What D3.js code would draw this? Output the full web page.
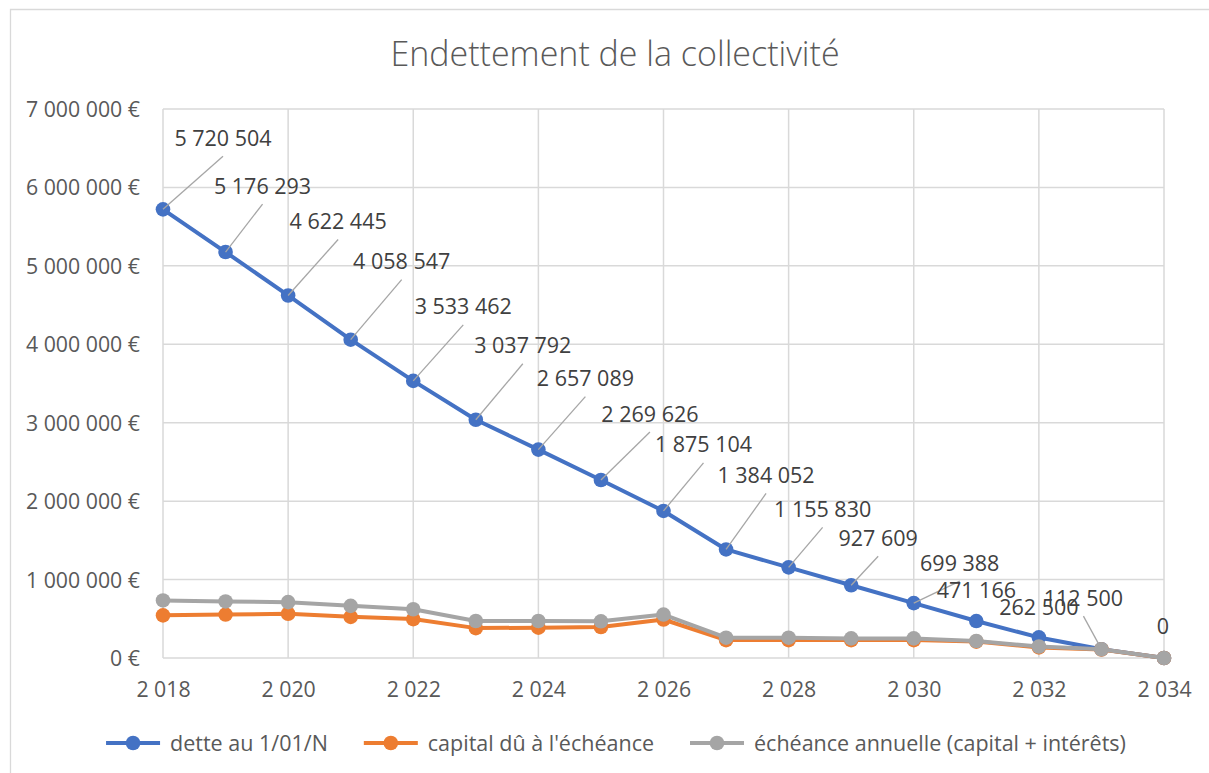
<!DOCTYPE html>
<html>
<head>
<meta charset="utf-8">
<script src="https://cdn.jsdelivr.net/npm/d3@7"></script>
<style>
  html, body { margin: 0; padding: 0; background: #fff; }
  svg { display: block; font-family: "Open Sans", "Noto Sans", sans-serif; }
</style>
</head>
<body>
<svg id="chart" width="1209" height="773"></svg>
<script>
// ---- Data ----
const years = [2018,2019,2020,2021,2022,2023,2024,2025,2026,2027,2028,2029,2030,2031,2032,2033,2034];
const dette = [5720504,5176293,4622445,4058547,3533462,3037792,2657089,2269626,1875104,1384052,1155830,927609,699388,471166,262500,112500,0];
const capital = [544000,554000,564000,525000,496000,381000,387000,395000,491000,228000,228000,228000,228000,209000,135000,108000,0];
const echeance = [734000,721000,712000,665000,622000,472000,472000,468000,554000,259000,259000,250000,250000,217000,147000,112000,0];
const seriesNames = ["dette au 1/01/N", "capital dû à l'échéance", "échéance annuelle (capital + intérêts)"];
const yTicks = [0,1000000,2000000,3000000,4000000,5000000,6000000,7000000];
const xTicks = [2018,2020,2022,2024,2026,2028,2030,2032,2034];
const titleText = "Endettement de la collectivité";

// ---- Layout (label placement, offsets in px from the point) ----
const labelDx = [60,37,50,51,50,47,47,49,40,40,34,27,46,0,0,-18,-1];
const labelDy = [-71,-66,-74,-78,-74,-74,-71,-66,-66,-74,-58,-47,-40,-31,-30,-51,-32];
const hasLeader = [1,1,1,1,1,1,1,1,1,1,1,1,1,0,0,1,0];

const colors = ["#4472C4", "#ED7D31", "#A5A5A5"];
const textColor = "#595959";
const gridColor = "#D9D9D9";

const svg = d3.select("#chart");
const fr = d3.formatLocale({decimal: ",", thousands: " ", grouping: [3], currency: ["", " €"]});
const fmtNum = fr.format(",d");
const fmtEur = d => fr.format(",d")(d) + " €";

const x = d3.scaleLinear().domain([2018, 2034]).range([163, 1164]);
const y = d3.scaleLinear().domain([0, 7000000]).range([658, 109]);

// chart border
svg.append("path").attr("d", "M10.5,773 V9.5 H1209")
  .attr("fill", "none").attr("stroke", gridColor).attr("stroke-width", 1.3);

// title
svg.append("text").attr("x", 615).attr("y", 66).attr("text-anchor", "middle")
  .attr("fill", textColor).attr("font-size", 34).attr("font-weight", 300).text(titleText);

// gridlines
const grid = svg.append("g");
grid.selectAll("line.h").data(yTicks).join("line")
  .attr("x1", x(2018)).attr("x2", x(2034))
  .attr("y1", d => y(d)).attr("y2", d => y(d))
  .attr("stroke", gridColor).attr("stroke-width", 1.5);
grid.selectAll("line.v").data(xTicks).join("line")
  .attr("x1", d => x(d)).attr("x2", d => x(d))
  .attr("y1", y(0)).attr("y2", y(7000000))
  .attr("stroke", gridColor).attr("stroke-width", 1.5);

// axes (labels only)
const yAxis = d3.axisLeft(y).tickValues(yTicks).tickFormat(fmtEur).tickSize(0).tickPadding(0);
const gy = svg.append("g").attr("transform", "translate(140,0)").call(yAxis);
gy.select(".domain").remove();
gy.selectAll("text").attr("fill", textColor).attr("font-size", 21.3)
  .attr("font-family", "'Open Sans', sans-serif").attr("dy", "0.35em");

const xAxis = d3.axisBottom(x).tickValues(xTicks).tickFormat(fmtNum).tickSize(0).tickPadding(0);
const gx = svg.append("g").attr("transform", "translate(0,690)").call(xAxis);
gx.select(".domain").remove();
gx.selectAll("text").attr("fill", textColor).attr("font-size", 21.3)
  .attr("font-family", "'Open Sans', sans-serif").attr("dy", "0.35em");

// series
const allSeries = [dette, capital, echeance];
const line = d3.line().x((d, i) => x(years[i])).y(d => y(d));
allSeries.forEach((vals, si) => {
  const g = svg.append("g");
  g.append("path").datum(vals).attr("d", line)
    .attr("fill", "none").attr("stroke", colors[si]).attr("stroke-width", 4)
    .attr("stroke-linejoin", "round").attr("stroke-linecap", "round");
  g.selectAll("circle").data(vals).join("circle")
    .attr("cx", (d, i) => x(years[i])).attr("cy", d => y(d)).attr("r", 7.3)
    .attr("fill", colors[si]);
});

// data labels for dette
const lg = svg.append("g");
dette.forEach((v, i) => {
  const px = x(years[i]), py = y(v);
  const lx = px + labelDx[i], ly = py + labelDy[i];
  if (hasLeader[i]) {
    lg.append("line").attr("x1", px).attr("y1", py).attr("x2", lx).attr("y2", ly + 18)
      .attr("stroke", "#A6A6A6").attr("stroke-width", 1.3);
  }
});
dette.forEach((v, i) => {
  const px = x(years[i]), py = y(v);
  lg.append("text").attr("x", px + labelDx[i]).attr("y", py + labelDy[i])
    .attr("dy", "0.35em").attr("text-anchor", "middle")
    .attr("fill", "#404040").attr("font-size", 21.5).text(fmtNum(v));
});

// legend
const leg = svg.append("g");
const items = seriesNames.map((name, i) => {
  const g = leg.append("g");
  g.append("line").attr("x1", 0).attr("x2", 54).attr("y1", 0).attr("y2", 0)
    .attr("stroke", colors[i]).attr("stroke-width", 4);
  g.append("circle").attr("cx", 27).attr("cy", 0).attr("r", 7.3).attr("fill", colors[i]);
  const t = g.append("text").attr("x", 64).attr("y", 0).attr("dy", "0.35em")
    .attr("fill", textColor).attr("font-size", 21.5).text(name);
  return {g, w: 64 + t.node().getComputedTextLength()};
});
const gap = 36;
const total = d3.sum(items, d => d.w) + gap * (items.length - 1);
let cx = 616 - total / 2;
items.forEach(it => {
  it.g.attr("transform", `translate(${cx},743)`);
  cx += it.w + gap;
});
</script>
</body>
</html>
